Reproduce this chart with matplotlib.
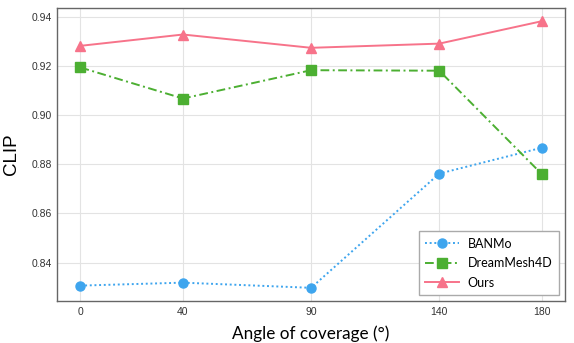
import numpy as np
import matplotlib
matplotlib.use("Agg")
import matplotlib.pyplot as plt

# angles of coverage (degrees)
angles = [0, 40, 90, 140, 180]

banmo = [0.8307, 0.8319, 0.8298, 0.8762, 0.8867]
dreammesh4d = [0.9193, 0.9067, 0.9182, 0.9180, 0.8760]
ours = [0.9281, 0.9327, 0.9273, 0.9290, 0.9381]

c_blue = "#3ea5ee"
c_green = "#4caf32"
c_pink = "#f7738a"

plt.rcParams["font.family"] = ["Liberation Sans", "DejaVu Sans"]
label_font = ["Lato", "DejaVu Sans"]

fig, ax = plt.subplots(figsize=(5.74, 3.43), dpi=100)
fig.subplots_adjust(left=0.1, right=0.984, top=0.977, bottom=0.122)

ax.plot(angles, banmo, linestyle=(0, (1, 1.4)), color=c_blue, marker="o", ms=6.5, lw=1.4, label="BANMo")
ax.plot(angles, dreammesh4d, linestyle=(0, (4.5, 1.8, 1, 1.8)), color=c_green, marker="s", ms=6.5, lw=1.4, label="DreamMesh4D")
ax.plot(angles, ours, linestyle="-", color=c_pink, marker="^", ms=7, lw=1.4, label="Ours")

ax.set_xticks(angles)
ax.set_yticks([0.84, 0.86, 0.88, 0.90, 0.92, 0.94])
ax.set_yticklabels(["0.84", "0.86", "0.88", "0.90", "0.92", "0.94"])
ax.tick_params(axis="both", length=0, labelsize=7.5, colors="#333333", pad=4)
ax.grid(True, color="#e3e3e3", lw=0.8)
ax.set_axisbelow(True)
for s in ax.spines.values():
    s.set_color("#666666")
    s.set_linewidth(1.0)

ax.set_xlabel("Angle of coverage (°)", fontsize=12.3, family=label_font, labelpad=6)
ax.set_ylabel("CLIP", fontsize=13.5, labelpad=8)

leg = ax.legend(loc="lower right", prop={"family": label_font, "size": 9},
                fancybox=False, edgecolor="#aaaaaa", framealpha=1, handlelength=2.7,
                borderpad=0.5, labelspacing=0.6, handletextpad=0.7)
leg.get_frame().set_linewidth(1.0)

fig.savefig("out.png", dpi=100)
